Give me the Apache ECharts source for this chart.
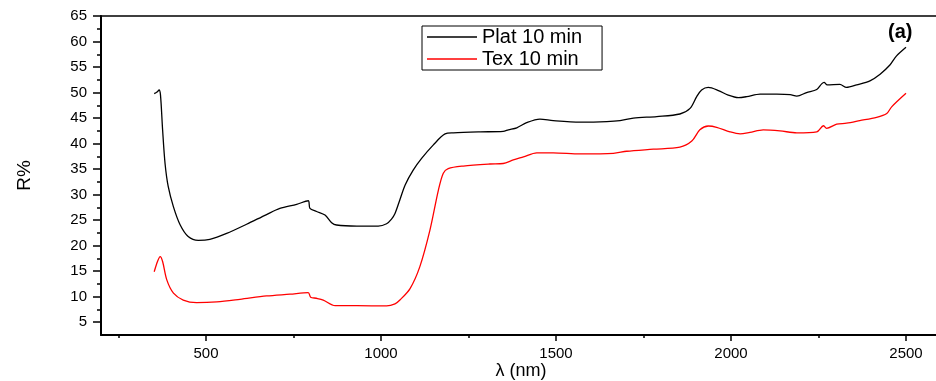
<!DOCTYPE html>
<html>
<head>
<meta charset="utf-8">
<title>Reflectance spectra</title>
<script src="https://cdn.jsdelivr.net/npm/echarts@6/dist/echarts.min.js"></script>
<style>
  html, body { margin: 0; padding: 0; background: #fff; }
  #chart { width: 936px; height: 381px; }
</style>
</head>
<body>
<div id="chart"></div>
<script>
// Reflectance (R%) versus wavelength (nm)
const seriesNames = ['Plat 10 min', 'Tex 10 min'];

const platNm = [352, 360, 366, 370, 376, 383, 392, 407, 426, 449, 478, 511, 559, 616, 673, 711, 759, 792, 797, 816, 840, 859, 873, 931, 992, 1016, 1030, 1040, 1054, 1069, 1092, 1116, 1149, 1183, 1207, 1283, 1349, 1364, 1388, 1416, 1454, 1492, 1569, 1645, 1683, 1721, 1788, 1854, 1883, 1902, 1916, 1935, 1964, 1992, 2021, 2045, 2083, 2131, 2169, 2188, 2216, 2245, 2259, 2266, 2275, 2311, 2330, 2359, 2397, 2426, 2454, 2473, 2500];
const platR = [49.8, 50.1, 50.5, 49.5, 42.7, 36.1, 31.6, 27.6, 24.1, 21.8, 21.05, 21.25, 22.4, 24.2, 26.1, 27.3, 28.1, 28.8, 27.3, 26.7, 26.0, 24.5, 24.05, 23.85, 23.85, 24.3, 25.2, 26.3, 29.0, 31.9, 34.8, 37.1, 39.7, 41.9, 42.1, 42.3, 42.4, 42.7, 43.1, 44.1, 44.8, 44.5, 44.2, 44.3, 44.5, 45.0, 45.3, 45.8, 46.9, 49.2, 50.5, 51.0, 50.4, 49.5, 49.0, 49.2, 49.7, 49.7, 49.6, 49.3, 50.0, 50.6, 51.7, 52.0, 51.5, 51.6, 51.0, 51.5, 52.3, 53.6, 55.4, 57.2, 58.9];

const texNm = [352, 362, 369, 376, 388, 407, 435, 473, 531, 597, 673, 740, 792, 799, 815, 835, 869, 931, 1016, 1040, 1054, 1083, 1111, 1140, 1164, 1178, 1192, 1235, 1311, 1349, 1378, 1407, 1445, 1492, 1569, 1664, 1702, 1778, 1854, 1888, 1911, 1935, 1959, 1997, 2026, 2054, 2092, 2140, 2188, 2245, 2264, 2273, 2302, 2330, 2368, 2416, 2445, 2459, 2500];
const texR = [14.9, 17.0, 17.85, 16.9, 13.3, 10.7, 9.35, 8.85, 9.0, 9.5, 10.15, 10.5, 10.8, 9.9, 9.7, 9.35, 8.25, 8.25, 8.2, 8.6, 9.35, 11.6, 15.9, 23.1, 30.9, 34.2, 35.1, 35.6, 36.0, 36.1, 36.8, 37.4, 38.2, 38.2, 38.0, 38.1, 38.5, 38.9, 39.3, 40.5, 42.7, 43.45, 43.2, 42.3, 41.9, 42.2, 42.7, 42.5, 42.1, 42.3, 43.5, 43.0, 43.8, 44.0, 44.5, 45.15, 45.9, 47.2, 49.85];

// axis ticks
const xMajorTicks = [500, 1000, 1500, 2000, 2500];
const xMinorTicks = [250, 750, 1250, 1750, 2250];
const yMajorTicks = [5, 10, 15, 20, 25, 30, 35, 40, 45, 50, 55, 60, 65];
const yMinorTicks = [7.5, 12.5, 17.5, 22.5, 27.5, 32.5, 37.5, 42.5, 47.5, 52.5, 57.5, 62.5];

const xMin = 200, xMax = 2600, yMin = 2.5, yMax = 65;

const pairs = (xs, ys) => xs.map((x, i) => [x, ys[i]]);

const font = 'Liberation Sans, Arial, sans-serif';
const chart = echarts.init(document.getElementById('chart'), null, { renderer: 'canvas' });

chart.setOption({
  animation: false,
  backgroundColor: '#fff',
  grid: { left: 101, top: 16, width: 840, height: 319, containLabel: false, outerBoundsMode: 'none' },
  legend: {
    data: seriesNames,
    orient: 'vertical',
    left: 422,
    top: 26,
    icon: 'rect',
    itemWidth: 50,
    itemHeight: 1.5,
    itemGap: 2,
    padding: [1, 20, 1, 5],
    borderColor: '#000',
    borderWidth: 1,
    textStyle: { fontFamily: font, fontSize: 20, color: '#000', lineHeight: 19 }
  },
  graphic: [{
    type: 'text',
    left: 888,
    top: 22,
    style: { text: '(a)', font: 'bold 20px ' + font, fill: '#000' }
  }],
  xAxis: [{
    type: 'value',
    min: xMin, max: xMax,
    name: 'λ (nm)',
    nameLocation: 'middle',
    nameGap: 27,
    nameMoveOverlap: false,
    nameTextStyle: { fontFamily: font, fontSize: 18, color: '#000' },
    axisLine: { lineStyle: { color: '#000', width: 2 } },
    axisTick: { show: true, inside: false, length: 6, customValues: xMajorTicks, lineStyle: { color: '#000', width: 1.5 } },
    axisLabel: { customValues: xMajorTicks, margin: 11, fontFamily: font, fontSize: 15, color: '#000', formatter: v => String(v) },
    splitLine: { show: false }
  }, {
    type: 'value',
    min: xMin, max: xMax,
    position: 'bottom',
    axisLine: { show: false },
    axisTick: { show: true, length: 3, customValues: xMinorTicks, lineStyle: { color: '#000', width: 1.5 } },
    axisLabel: { show: false },
    splitLine: { show: false }
  }, {
    type: 'value',
    min: xMin, max: xMax,
    position: 'top',
    axisLine: { show: true, lineStyle: { color: '#000', width: 1.5 } },
    axisTick: { show: false },
    axisLabel: { show: false },
    splitLine: { show: false }
  }],
  yAxis: [{
    type: 'value',
    min: yMin, max: yMax,
    name: 'R%',
    nameLocation: 'middle',
    nameRotate: 90,
    nameGap: 67,
    nameMoveOverlap: false,
    nameTextStyle: { fontFamily: font, fontSize: 19, color: '#000' },
    axisLine: { show: true, lineStyle: { color: '#000', width: 2 } },
    axisTick: { show: true, inside: false, length: 8, customValues: yMajorTicks, lineStyle: { color: '#000', width: 1.5 } },
    axisLabel: { customValues: yMajorTicks, margin: 14, fontFamily: font, fontSize: 15, color: '#000' },
    splitLine: { show: false }
  }, {
    type: 'value',
    min: yMin, max: yMax,
    position: 'left',
    axisLine: { show: false },
    axisTick: { show: true, length: 4, customValues: yMinorTicks, lineStyle: { color: '#000', width: 1.5 } },
    axisLabel: { show: false },
    splitLine: { show: false }
  }],
  series: [{
    name: seriesNames[0],
    type: 'line',
    data: pairs(platNm, platR),
    showSymbol: false,
    smooth: 0.3,
    color: '#000',
    lineStyle: { color: '#000', width: 1.3 }
  }, {
    name: seriesNames[1],
    type: 'line',
    data: pairs(texNm, texR),
    showSymbol: false,
    smooth: 0.3,
    color: '#ff0000',
    lineStyle: { color: '#ff0000', width: 1.3 }
  }]
});
</script>
</body>
</html>
